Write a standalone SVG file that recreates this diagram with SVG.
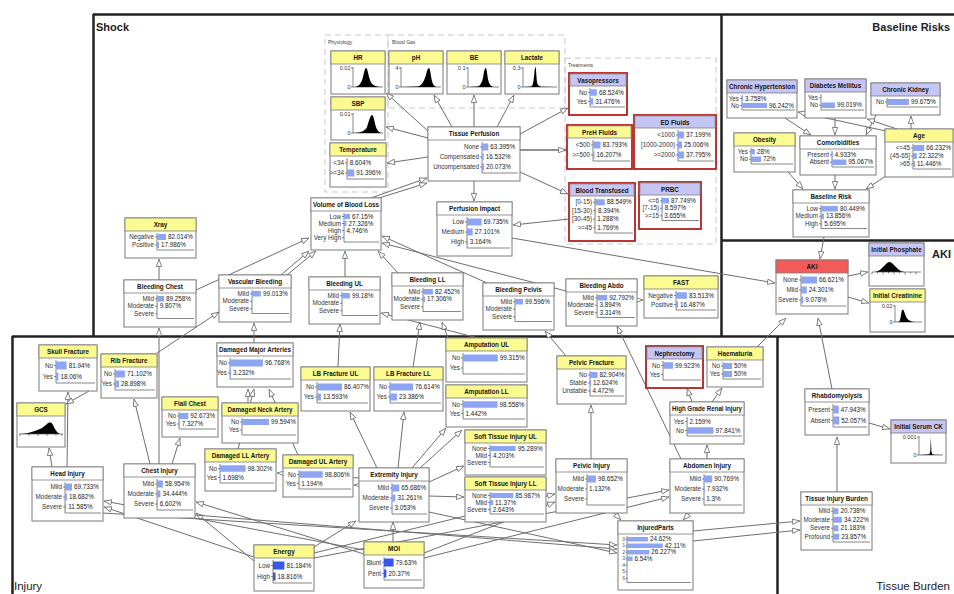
<svg xmlns="http://www.w3.org/2000/svg" width="954" height="594" viewBox="0 0 954 594">
<defs>
<style>
text{font-family:"Liberation Sans",Arial,sans-serif}
.b{fill:#fff;stroke:#7a7a7a;stroke-width:1}
.rb{fill:#fff;stroke:#b52020;stroke-width:1.8}
.hy{fill:#fbfb92;stroke:#7a7a7a;stroke-width:.8}
.hl{fill:#c6c6f4;stroke:#7a7a7a;stroke-width:.8}
.hw{fill:#fff;stroke:#7a7a7a;stroke-width:.8}
.hr{fill:#f35a5a;stroke:#7a7a7a;stroke-width:.8}
.t{font-size:6.3px;font-weight:bold;text-anchor:middle;fill:#151515}
.l{font-size:6.3px;text-anchor:end;fill:#333}
.v{font-size:6.3px;fill:#222}
.s{font-size:4.5px;text-anchor:end;fill:#444}
.cl{font-size:5.5px;text-anchor:end;fill:#333}
.f{fill:none;stroke:#555;stroke-width:.7}
.bb{fill:#8da5f3}
.bd{fill:#3557ee}
.d{fill:#000}
.e{fill:none;stroke:#6e6e6e;stroke-width:1;marker-end:url(#a)}
.pl{fill:none;stroke:#222;stroke-width:2.5}
.dg{fill:none;stroke:#c8c8c8;stroke-width:1;stroke-dasharray:6 4}
.pt{font-size:11px;font-weight:bold;fill:#222}
.pn{font-size:11.5px;fill:#222}
.gl{font-size:5px;fill:#444}
</style>
<marker id="a" viewBox="0 0 10 8" refX="10" refY="4" markerWidth="8" markerHeight="6.4" markerUnits="userSpaceOnUse" orient="auto"><path d="M0.6,0.6 L9.5,4 L0.6,7.4 Z" fill="#fff" stroke="#666" stroke-width="1"/></marker>
</defs>
<rect width="954" height="594" fill="#fff"/>

<g id="panels">
<path class="pl" d="M93,14.5H954M93.5,14V337M721.5,14V337M721,240.5H954M12,336.5H954M12.5,336V594M777.5,336V594"/>
<text class="pt" x="96" y="31">Shock</text>
<text class="pt" x="950" y="31" font-size="10" text-anchor="end">Baseline Risks</text>
<text class="pt" x="951" y="258" font-size="10" text-anchor="end">AKI</text>
<text class="pn" x="14" y="590">Injury</text>
<text class="pn" x="950" y="590" font-size="11" text-anchor="end">Tissue Burden</text>
</g>

<g id="groups">
<rect class="dg" x="325" y="35" width="63" height="157"/>
<rect class="dg" x="388" y="35" width="177" height="73"/>
<rect class="dg" x="565" y="58" width="151" height="186"/>
<text class="gl" x="328" y="44">Physiology</text>
<text class="gl" x="392" y="44">Blood Gas</text>
<text class="gl" x="568" y="67">Treatments</text>
</g>

<g id="connectors">
<path class="e" d="M428,131L386,93"/>
<path class="e" d="M452,127L434,95"/>
<path class="e" d="M474,127L474,95"/>
<path class="e" d="M497,127L514,95"/>
<path class="e" d="M428,138L386,127"/>
<path class="e" d="M428,157L387,163"/>
<path class="e" d="M520,134L568,108"/>
<path class="e" d="M520,150L566,150" style="stroke-width:1.6"/>
<path class="e" d="M520,172L568,194"/>
<path class="e" d="M474,181L474,201"/>
<path class="e" d="M371,198L427,178"/>
<path class="e" d="M379,198L427,183"/>
<path class="e" d="M569,219L513,225"/>
<path class="e" d="M512,238L775,283"/>
<path class="e" d="M196,290L309,238"/>
<path class="e" d="M281,275L309,251"/>
<path class="e" d="M287,275L316,251"/>
<path class="e" d="M345,277L345,251"/>
<path class="e" d="M398,273L378,251"/>
<path class="e" d="M487,283L382,236"/>
<path class="e" d="M566,291L382,243"/>
<path class="e" d="M159,280L159,259"/>
<path class="e" d="M637,300L643,300"/>
<path class="e" d="M785,118L811,135"/>
<path class="e" d="M835,118L835,135"/>
<path class="e" d="M876,115L866,135"/>
<path class="e" d="M886,131L798,112"/>
<path class="e" d="M897,129L867,119"/>
<path class="e" d="M911,129L911,116"/>
<path class="e" d="M788,172L803,189"/>
<path class="e" d="M835,175L835,189"/>
<path class="e" d="M886,176L866,189"/>
<path class="e" d="M824,237L820,259"/>
<path class="e" d="M848,276L868,272"/>
<path class="e" d="M848,297L869,303"/>
<path class="e" d="M757,347L786,318"/>
<path class="e" d="M832,389L818,318"/>
<path class="e" d="M869,423L890,429"/>
<path class="e" d="M837,492L837,437"/>
<path class="e" d="M159,464L159,328"/>
<path class="e" d="M150,464L134,399"/>
<path class="e" d="M172,464L180,438"/>
<path class="e" d="M67,467L68,392"/>
<path class="e" d="M52,467L49,448"/>
<path class="e" d="M89,391L66,404"/>
<path class="e" d="M157,353L219,312"/>
<path class="e" d="M254,343L254,323"/>
<path class="e" d="M248,403L248,389"/>
<path class="e" d="M238,449L254,389"/>
<path class="e" d="M298,455L269,389"/>
<path class="e" d="M338,367L340,324"/>
<path class="e" d="M413,367L420,322"/>
<path class="e" d="M478,338L381,313"/>
<path class="e" d="M448,338L442,322"/>
<path class="e" d="M566,356L545,331"/>
<path class="e" d="M681,459L617,326"/>
<path class="e" d="M692,402L687,388"/>
<path class="e" d="M712,402L722,388"/>
<path class="e" d="M707,459L707,445"/>
<path class="e" d="M591,459L591,405"/>
<path class="e" d="M614,513L621,520"/>
<path class="e" d="M690,513L683,520"/>
<path class="e" d="M377,468L350,412"/>
<path class="e" d="M398,468L404,412"/>
<path class="e" d="M412,468L446,428"/>
<path class="e" d="M420,468L462,430"/>
<path class="e" d="M429,482L464,466"/>
<path class="e" d="M429,496L464,497"/>
<path class="e" d="M362,485L354,485"/>
<path class="e" d="M359,478L277,473"/>
<path class="e" d="M314,547L356,521"/>
<path class="e" d="M393,542L393,522"/>
<path class="e" d="M364,550L104,501"/>
<path class="e" d="M254,557L104,507"/>
<path class="e" d="M364,554L196,502"/>
<path class="e" d="M254,561L196,513"/>
<path class="e" d="M314,553L555,494"/>
<path class="e" d="M424,553L555,502"/>
<path class="e" d="M314,558L669,490"/>
<path class="e" d="M424,558L669,497"/>
<path class="e" d="M103,513L617,545"/>
<path class="e" d="M195,515L617,549"/>
<path class="e" d="M429,512L617,553"/>
<path class="e" d="M693,531L800,521"/>
<path class="e" d="M693,541L800,530"/>
</g>

<g id="n-hr" transform="translate(331,51)"><rect class="b" width="54" height="43"/><rect class="hy" width="54" height="13"/><text class="t" x="27" y="9.3">HR</text><path class="f" d="M22,16V36H52M20,17H22M20,36H22"/><path class="d" d="M23,36C28,35.6 30,33 32,26C33,21 34,17 35,17C36.5,17 37,23 39,29C40.5,33.5 43,35.4 50,36Z"/><text class="cl" x="19.5" y="19">0.02</text><text class="cl" x="19.5" y="38">0</text></g>
<g id="n-ph" transform="translate(389,51)"><rect class="b" width="54" height="43"/><rect class="hy" width="54" height="13"/><text class="t" x="27" y="9.3">pH</text><path class="f" d="M12,16V36H52M10,17H12M10,36H12"/><path class="d" d="M13,36L28,35.6C33,35 35,30 37,24C38,19 39,17 40,17C41,17 41.5,22 42.5,28C43.5,33 45,35.5 48,36Z"/><text class="cl" x="9.5" y="19">4</text><text class="cl" x="9.5" y="38">0</text></g>
<g id="n-be" transform="translate(447,51)"><rect class="b" width="54" height="43"/><rect class="hy" width="54" height="13"/><text class="t" x="27" y="9.3">BE</text><path class="f" d="M21,16V36H52M19,17H21M19,36H21"/><path class="d" d="M22,36L30,35.6C34,35 35.5,30 36.5,24C37.3,19 38,17 38.8,17C39.6,17 40,22 41,28C42,33 43.5,35.5 47,36Z"/><text class="cl" x="18.5" y="19">0.1</text><text class="cl" x="18.5" y="38">0</text></g>
<g id="n-lactate" transform="translate(505,51)"><rect class="b" width="54" height="43"/><rect class="hy" width="54" height="13"/><text class="t" x="27" y="9.3">Lactate</text><path class="f" d="M18,16V36H52M16,17H18M16,36H18"/><path class="d" d="M19,36L26,35.5C28,35 28.5,31 29.3,23C29.7,18 30.1,16 30.6,16C31,17 31.4,25 32,31C32.6,34.5 34,35.5 38,35.8L50,36Z"/><text class="cl" x="15.5" y="19">0.3</text><text class="cl" x="15.5" y="38">0</text></g>
<g id="n-sbp" transform="translate(331,97)"><rect class="b" width="54" height="43"/><rect class="hy" width="54" height="13"/><text class="t" x="27" y="9.3">SBP</text><path class="f" d="M22,16V36H52M20,17H22M20,36H22"/><path class="d" d="M23,36C30,35.8 34,34 36,30C38,24 39.5,18 41,18C42.5,18 43.5,25 45,30C46.5,34 48,35.5 51,36Z"/><text class="cl" x="19.5" y="19">0.01</text><text class="cl" x="19.5" y="38">0</text></g>

<g id="n-temperature" transform="translate(330,143)"><rect class="b" width="56" height="44"/><rect class="hy" width="56" height="13"/><text class="t" x="28" y="9.3">Temperature</text><path class="f" d="M17,15V36H54M15,20H17M15,30H17"/><rect class="bb" x="17" y="16.5" width="0.7" height="7"/><rect class="bb" x="17" y="26.5" width="7.3" height="7"/><text class="l" x="14" y="22.2">&lt;34</text><text class="l" x="14" y="32.2">&gt;=34</text><text class="v" x="19.7" y="22.2">8.604%</text><text class="v" x="26.3" y="32.2">91.396%</text></g>

<g id="n-tissue-perfusion" transform="translate(428,127)"><rect class="b" width="92" height="54"/><rect class="hw" width="92" height="13"/><text class="t" x="46" y="9.3">Tissue Perfusion</text><path class="f" d="M54,15V46H90M52,20H54M52,30H54M52,40H54"/><rect class="bb" x="54" y="16.5" width="6.3" height="7"/><rect class="bb" x="54" y="26.5" width="1.7" height="7"/><rect class="bb" x="54" y="36.5" width="2" height="7"/><text class="l" x="51" y="22.2">None</text><text class="l" x="51" y="32.2">Compensated</text><text class="l" x="51" y="42.2">Uncompensated</text><text class="v" x="62.3" y="22.2">63.395%</text><text class="v" x="57.7" y="32.2">16.532%</text><text class="v" x="58" y="42.2">20.073%</text></g>

<g id="n-vasopressors" transform="translate(569,73)"><rect class="rb" width="58" height="42"/><rect class="hl" x="0.9" y="0.9" width="56.2" height="12.1"/><text class="t" x="29" y="9.5">Vasopressors</text><path class="f" d="M21,15V34H56M19,19.5H21M19,28.5H21"/><rect class="bb" x="21" y="16.25" width="6.85" height="6.5"/><rect class="bb" x="21" y="25.25" width="3.15" height="6.5"/><text class="l" x="18" y="21.7">No</text><text class="l" x="18" y="30.7">Yes</text><text class="v" x="29.9" y="21.7">68.524%</text><text class="v" x="26.2" y="30.7">31.476%</text></g>

<g id="n-preh-fluids" transform="translate(567,125)"><rect class="rb" width="65" height="44"/><rect class="hy" x="0.9" y="0.9" width="63.2" height="12.1"/><text class="t" x="32.5" y="9.5">PreH Fluids</text><path class="f" d="M26,15V36H63M24,20H26M24,30H26"/><rect class="bb" x="26" y="16.5" width="7.5" height="7"/><rect class="bb" x="26" y="26.5" width="1.5" height="7"/><text class="l" x="23" y="22.2">&lt;500</text><text class="l" x="23" y="32.2">&gt;=500</text><text class="v" x="35.5" y="22.2">83.793%</text><text class="v" x="29.5" y="32.2">16.207%</text></g>

<g id="n-ed-fluids" transform="translate(634,115)"><rect class="rb" width="82" height="54"/><rect class="hl" x="0.9" y="0.9" width="80.2" height="12.1"/><text class="t" x="41" y="9.5">ED Fluids</text><path class="f" d="M44,15V46H80M42,20H44M42,30H44M42,40H44"/><rect class="bb" x="44" y="16.5" width="5.95" height="7"/><rect class="bb" x="44" y="26.5" width="4" height="7"/><rect class="bb" x="44" y="36.5" width="6.05" height="7"/><text class="l" x="41" y="22.2">&lt;1000</text><text class="l" x="41" y="32.2">[1000-2000)</text><text class="l" x="41" y="42.2">&gt;=2000</text><text class="v" x="52" y="22.2">37.199%</text><text class="v" x="50" y="32.2">25.006%</text><text class="v" x="52" y="42.2">37.795%</text></g>

<g id="n-blood-transfused" transform="translate(569,183)"><rect class="rb" width="66" height="58"/><rect class="hl" x="0.9" y="0.9" width="64.2" height="12.1"/><text class="t" x="33" y="9.5">Blood Transfused</text><path class="f" d="M26,15V50H64M24,19.25H26M24,27.75H26M24,36.25H26M24,44.75H26"/><rect class="bb" x="26" y="16.25" width="9.74" height="6"/><rect class="bb" x="26" y="24.75" width="0.92" height="6"/><rect class="bb" x="26" y="33.25" width="0.3" height="6"/><rect class="bb" x="26" y="41.75" width="0.3" height="6"/><text class="l" x="23" y="21.45">[0-15)</text><text class="l" x="23" y="29.95">[15-30)</text><text class="l" x="23" y="38.45">[30-45)</text><text class="l" x="23" y="46.95">&gt;=45</text><text class="v" x="37.7" y="21.45">88.549%</text><text class="v" x="28.9" y="29.95">8.394%</text><text class="v" x="28.3" y="38.45">1.288%</text><text class="v" x="28.3" y="46.95">1.769%</text></g>

<g id="n-prbc" transform="translate(639,182)"><rect class="rb" width="62" height="47"/><rect class="hl" x="0.9" y="0.9" width="60.2" height="12.1"/><text class="t" x="31" y="9.5">PRBC</text><path class="f" d="M23,15V38.5H60M21,18.75H23M21,26.25H23M21,33.75H23"/><rect class="bb" x="23" y="16" width="7" height="5.5"/><rect class="bb" x="23" y="23.5" width="0.7" height="5.5"/><rect class="bb" x="23" y="31" width="0.3" height="5.5"/><text class="l" x="20" y="20.95">&lt;=6</text><text class="l" x="20" y="28.45">[7-15)</text><text class="l" x="20" y="35.95">&gt;=15</text><text class="v" x="32" y="20.95">87.749%</text><text class="v" x="25.7" y="28.45">8.597%</text><text class="v" x="25.3" y="35.95">3.655%</text></g>

<g id="n-perfusion-impact" transform="translate(437,202)"><rect class="b" width="75" height="54"/><rect class="hw" width="75" height="13"/><text class="t" x="37.5" y="9.3">Perfusion Impact</text><path class="f" d="M30,15V46H73M28,20H30M28,30H30M28,40H30"/><rect class="bb" x="30" y="16.5" width="14.6" height="7"/><rect class="bb" x="30" y="26.5" width="5.7" height="7"/><rect class="bb" x="30" y="36.5" width="0.7" height="7"/><text class="l" x="27" y="22.2">Low</text><text class="l" x="27" y="32.2">Medium</text><text class="l" x="27" y="42.2">High</text><text class="v" x="46.6" y="22.2">69.735%</text><text class="v" x="37.7" y="32.2">27.101%</text><text class="v" x="32.7" y="42.2">3.164%</text></g>

<g id="n-volume-blood-loss" transform="translate(311,198)"><rect class="b" width="70" height="52"/><rect class="hw" width="70" height="13"/><text class="t" x="35" y="9.3">Volume of Blood Loss</text><path class="f" d="M33,15V44H68M31,18.5H33M31,25.5H33M31,32.5H33M31,39.5H33"/><rect class="bb" x="33" y="16" width="6" height="5"/><rect class="bb" x="33" y="23" width="2.5" height="5"/><rect class="bb" x="33" y="30" width="0.45" height="5"/><text class="l" x="30" y="20.7">Low</text><text class="l" x="30" y="27.7">Medium</text><text class="l" x="30" y="34.7">High</text><text class="l" x="30" y="41.7">Very High</text><text class="v" x="41" y="20.7">67.15%</text><text class="v" x="37.5" y="27.7">27.326%</text><text class="v" x="35.4" y="34.7">4.746%</text></g>

<g id="n-xray" transform="translate(125,218)"><rect class="b" width="71" height="40"/><rect class="hy" width="71" height="13"/><text class="t" x="35.5" y="9.3">Xray</text><path class="f" d="M32,15V32H69M30,19H32M30,27H32"/><rect class="bb" x="32" y="16" width="9" height="6"/><rect class="bb" x="32" y="24" width="2" height="6"/><text class="l" x="29" y="21.2">Negative</text><text class="l" x="29" y="29.2">Positive</text><text class="v" x="43" y="21.2">82.014%</text><text class="v" x="36" y="29.2">17.986%</text></g>

<g id="n-bleeding-chest" transform="translate(124,280)"><rect class="b" width="72" height="47"/><rect class="hw" width="72" height="13"/><text class="t" x="36" y="9.3">Bleeding Chest</text><path class="f" d="M33,15V38.5H70M31,18.75H33M31,26.25H33M31,33.75H33"/><rect class="bb" x="33" y="16" width="7.1" height="5.5"/><rect class="bb" x="33" y="23.5" width="0.8" height="5.5"/><text class="l" x="30" y="20.95">Mild</text><text class="l" x="30" y="28.45">Moderate</text><text class="l" x="30" y="35.95">Severe</text><text class="v" x="42.1" y="20.95">89.258%</text><text class="v" x="35.8" y="28.45">9.807%</text></g>

<g id="n-vascular-bleeding" transform="translate(219,275)"><rect class="b" width="72" height="47"/><rect class="hw" width="72" height="13"/><text class="t" x="36" y="9.3">Vascular Bleeding</text><path class="f" d="M33,15V38.5H70M31,18.75H33M31,26.25H33M31,33.75H33"/><rect class="bb" x="33" y="16" width="8.9" height="5.5"/><text class="l" x="30" y="20.95">Mild</text><text class="l" x="30" y="28.45">Moderate</text><text class="l" x="30" y="35.95">Severe</text><text class="v" x="43.9" y="20.95">99.013%</text></g>

<g id="n-bleeding-ul" transform="translate(309,277)"><rect class="b" width="71" height="47"/><rect class="hw" width="71" height="13"/><text class="t" x="35.5" y="9.3">Bleeding UL</text><path class="f" d="M33,15V38.5H69M31,18.75H33M31,26.25H33M31,33.75H33"/><rect class="bb" x="33" y="16" width="7.9" height="5.5"/><text class="l" x="30" y="20.95">Mild</text><text class="l" x="30" y="28.45">Moderate</text><text class="l" x="30" y="35.95">Severe</text><text class="v" x="42.9" y="20.95">99.18%</text></g>

<g id="n-bleeding-ll" transform="translate(392,273)"><rect class="b" width="71" height="47"/><rect class="hw" width="71" height="13"/><text class="t" x="35.5" y="9.3">Bleeding LL</text><path class="f" d="M31,15V38.5H69M29,18.75H31M29,26.25H31M29,33.75H31"/><rect class="bb" x="31" y="16" width="9.9" height="5.5"/><rect class="bb" x="31" y="23.5" width="2.1" height="5.5"/><text class="l" x="28" y="20.95">Mild</text><text class="l" x="28" y="28.45">Moderate</text><text class="l" x="28" y="35.95">Severe</text><text class="v" x="42.9" y="20.95">82.452%</text><text class="v" x="35.1" y="28.45">17.306%</text></g>

<g id="n-bleeding-pelvis" transform="translate(483,283)"><rect class="b" width="71" height="47"/><rect class="hw" width="71" height="13"/><text class="t" x="35.5" y="9.3">Bleeding Pelvis</text><path class="f" d="M32,15V38.5H69M30,18.75H32M30,26.25H32M30,33.75H32"/><rect class="bb" x="32" y="16" width="8" height="5.5"/><text class="l" x="29" y="20.95">Mild</text><text class="l" x="29" y="28.45">Moderate</text><text class="l" x="29" y="35.95">Severe</text><text class="v" x="42" y="20.95">99.596%</text></g>

<g id="n-bleeding-abdo" transform="translate(566,279)"><rect class="b" width="71" height="47"/><rect class="hw" width="71" height="13"/><text class="t" x="35.5" y="9.3">Bleeding Abdo</text><path class="f" d="M31,15V38.5H69M29,18.75H31M29,26.25H31M29,33.75H31"/><rect class="bb" x="31" y="16" width="10.2" height="5.5"/><rect class="bb" x="31" y="23.5" width="0.45" height="5.5"/><rect class="bb" x="31" y="31" width="0.4" height="5.5"/><text class="l" x="28" y="20.95">Mild</text><text class="l" x="28" y="28.45">Moderate</text><text class="l" x="28" y="35.95">Severe</text><text class="v" x="43.2" y="20.95">92.792%</text><text class="v" x="33.5" y="28.45">3.894%</text><text class="v" x="33.4" y="35.95">3.314%</text></g>

<g id="n-fast" transform="translate(644,276)"><rect class="b" width="74" height="42"/><rect class="hy" width="74" height="13"/><text class="t" x="37" y="9.3">FAST</text><path class="f" d="M32,15V34H72M30,19.5H32M30,28.5H32"/><rect class="bb" x="32" y="16.25" width="10.9" height="6.5"/><rect class="bb" x="32" y="25.25" width="2.1" height="6.5"/><text class="l" x="29" y="21.7">Negative</text><text class="l" x="29" y="30.7">Positive</text><text class="v" x="44.9" y="21.7">83.513%</text><text class="v" x="36.1" y="30.7">16.487%</text></g>

<g id="n-chronic-hypertension" transform="translate(727,80)"><rect class="b" width="70" height="38"/><rect class="hl" width="70" height="13"/><text class="t" x="35" y="9.3" textLength="66" lengthAdjust="spacingAndGlyphs">Chronic Hypertension</text><path class="f" d="M15,15V30H68M13,18.5H15M13,25.5H15"/><rect class="bb" x="15" y="16" width="1" height="5"/><rect class="bb" x="15" y="23" width="25" height="5"/><text class="l" x="12" y="20.7">Yes</text><text class="l" x="12" y="27.7">No</text><text class="v" x="18" y="20.7">3.758%</text><text class="v" x="42" y="27.7">96.242%</text></g>

<g id="n-diabetes" transform="translate(805,79)"><rect class="b" width="61" height="39"/><rect class="hl" width="61" height="13"/><text class="t" x="30.5" y="9.3">Diabetes Mellitus</text><path class="f" d="M16,15V31H59M14,18.75H16M14,26.25H16"/><rect class="bb" x="16" y="23.5" width="13.9" height="5.5"/><text class="l" x="13" y="20.95">Yes</text><text class="l" x="13" y="28.45">No</text><text class="v" x="31.9" y="28.45">99.019%</text></g>

<g id="n-chronic-kidney" transform="translate(871,83)"><rect class="b" width="69" height="32"/><rect class="hl" width="69" height="13"/><text class="t" x="34.5" y="9.3">Chronic Kidney</text><path class="f" d="M16,15V24H67M14,19H16"/><rect class="bb" x="16" y="16" width="21.9" height="6"/><text class="l" x="13" y="21.2">No</text><text class="v" x="39.9" y="21.2">99.675%</text></g>

<g id="n-obesity" transform="translate(734,133)"><rect class="b" width="61" height="39"/><rect class="hy" width="61" height="13"/><text class="t" x="30.5" y="9.3">Obesity</text><path class="f" d="M17,15V31H59M15,18.75H17M15,26.25H17"/><rect class="bb" x="17" y="16" width="3.9" height="5.5"/><rect class="bb" x="17" y="23.5" width="10.1" height="5.5"/><text class="l" x="14" y="20.95">Yes</text><text class="l" x="14" y="28.45">No</text><text class="v" x="22.9" y="20.95">28%</text><text class="v" x="29.1" y="28.45">72%</text></g>

<g id="n-comorbidities" transform="translate(800,136)"><rect class="b" width="76" height="39"/><rect class="hw" width="76" height="13"/><text class="t" x="38" y="9.3">Comorbidities</text><path class="f" d="M32,15V31H74M30,18.75H32M30,26.25H32"/><rect class="bb" x="32" y="16" width="0.74" height="5.5"/><rect class="bb" x="32" y="23.5" width="14.3" height="5.5"/><text class="l" x="29" y="20.95">Present</text><text class="l" x="29" y="28.45">Absent</text><text class="v" x="34.7" y="20.95">4.933%</text><text class="v" x="48.3" y="28.45">95.067%</text></g>

<g id="n-age" transform="translate(885,129)"><rect class="b" width="68" height="48"/><rect class="hy" width="68" height="13"/><text class="t" x="34" y="9.3">Age</text><path class="f" d="M28,15V40H66M26,19H28M26,27H28M26,35H28"/><rect class="bb" x="28" y="16" width="11.3" height="6"/><rect class="bb" x="28" y="24" width="3.8" height="6"/><rect class="bb" x="28" y="32" width="1.95" height="6"/><text class="l" x="25" y="21.2">&lt;=45</text><text class="l" x="25" y="29.2">(45-65]</text><text class="l" x="25" y="37.2">&gt;65</text><text class="v" x="41.3" y="21.2">66.232%</text><text class="v" x="33.8" y="29.2">22.322%</text><text class="v" x="31.9" y="37.2">11.446%</text></g>

<g id="n-baseline-risk" transform="translate(793,190)"><rect class="b" width="76" height="47"/><rect class="hw" width="76" height="13"/><text class="t" x="38" y="9.3">Baseline Risk</text><path class="f" d="M28,15V38.5H74M26,18.75H28M26,26.25H28M26,33.75H28"/><rect class="bb" x="28" y="16" width="16.9" height="5.5"/><rect class="bb" x="28" y="23.5" width="2.9" height="5.5"/><rect class="bb" x="28" y="31" width="1.2" height="5.5"/><text class="l" x="25" y="20.95">Low</text><text class="l" x="25" y="28.45">Medium</text><text class="l" x="25" y="35.95">High</text><text class="v" x="46.9" y="20.95">80.449%</text><text class="v" x="32.9" y="28.45">13.856%</text><text class="v" x="31.2" y="35.95">5.695%</text></g>

<g id="n-aki" transform="translate(776,260)"><rect class="b" width="72" height="54"/><rect class="hr" width="72" height="13"/><text class="t" x="36" y="9.3">AKI</text><path class="f" d="M25,15V46H70M23,20H25M23,30H25M23,40H25"/><rect class="bb" x="25" y="16.5" width="16" height="7"/><rect class="bb" x="25" y="26.5" width="5.8" height="7"/><rect class="bb" x="25" y="36.5" width="2.2" height="7"/><text class="l" x="22" y="22.2">None</text><text class="l" x="22" y="32.2">Mild</text><text class="l" x="22" y="42.2">Severe</text><text class="v" x="43" y="22.2">66.621%</text><text class="v" x="32.8" y="32.2">24.301%</text><text class="v" x="29.2" y="42.2">9.078%</text></g>

<g id="n-initial-phosphate" transform="translate(869,243)"><rect class="b" width="55" height="43"/><rect class="hl" width="55" height="13"/><text class="t" x="27.5" y="9.3">Initial Phosphate</text><path class="d" d="M5,29C10,29 13,25 16,22C18,20 19,19 20.5,19C22,19 23,20 25,22C28,25 31,29 36,29Z"/><path class="f" d="M3,29H52M3,29V31.5M14,29V31.5M25,29V31.5M36,29V31.5M47,29V31.5M8.5,29V30.5M19.5,29V30.5M30.5,29V30.5M41.5,29V30.5"/></g>

<g id="n-initial-creatinine" transform="translate(870,289)"><rect class="b" width="55" height="43"/><rect class="hy" width="55" height="13"/><text class="t" x="27.5" y="9.3">Initial Creatinine</text><path class="f" d="M25,16V33H52M23,17H25M23,33H25"/><path class="d" d="M26,33L29,32.8C30.5,32 31,24 32,21C33,20 34,21 35,25C36.5,30 39,32.5 45,33L50,33Z"/><text class="cl" x="22.5" y="19">0.02</text><text class="cl" x="22.5" y="35">0</text></g>

<g id="n-skull-fracture" transform="translate(39,345)"><rect class="b" width="58" height="46"/><rect class="hy" width="58" height="13"/><text class="t" x="29" y="9.3">Skull Fracture</text><path class="f" d="M17,15V38H56M15,20.5H17M15,31.5H17"/><rect class="bb" x="17" y="16.5" width="10.65" height="8"/><rect class="bb" x="17" y="27.5" width="2.35" height="8"/><text class="l" x="14" y="22.7">No</text><text class="l" x="14" y="33.7">Yes</text><text class="v" x="29.7" y="22.7">81.94%</text><text class="v" x="21.4" y="33.7">18.06%</text></g>

<g id="n-rib-fracture" transform="translate(101,354)"><rect class="b" width="56" height="44"/><rect class="hy" width="56" height="13"/><text class="t" x="28" y="9.3">Rib Fracture</text><path class="f" d="M14,15V36H54M12,20H14M12,30H14"/><rect class="bb" x="14" y="16.5" width="9.95" height="7"/><rect class="bb" x="14" y="26.5" width="4.05" height="7"/><text class="l" x="11" y="22.2">No</text><text class="l" x="11" y="32.2">Yes</text><text class="v" x="26" y="22.2">71.102%</text><text class="v" x="20" y="32.2">28.898%</text></g>

<g id="n-damaged-major-arteries" transform="translate(217,343)"><rect class="b" width="76" height="44"/><rect class="hw" width="76" height="13"/><text class="t" x="38" y="9.3" textLength="72" lengthAdjust="spacingAndGlyphs">Damaged Major Arteries</text><path class="f" d="M13,15V36H74M11,20H13M11,30H13"/><rect class="bb" x="13" y="16.5" width="32.9" height="7"/><rect class="bb" x="13" y="26.5" width="1.1" height="7"/><text class="l" x="10" y="22.2">No</text><text class="l" x="10" y="32.2">Yes</text><text class="v" x="47.9" y="22.2">96.768%</text><text class="v" x="16.1" y="32.2">3.232%</text></g>

<g id="n-lb-fracture-ul" transform="translate(301,367)"><rect class="b" width="69" height="44"/><rect class="hy" width="69" height="13"/><text class="t" x="34.5" y="9.3">LB Fracture UL</text><path class="f" d="M16,15V36H67M14,20H16M14,30H16"/><rect class="bb" x="16" y="16.5" width="25.1" height="7"/><rect class="bb" x="16" y="26.5" width="3.9" height="7"/><text class="l" x="13" y="22.2">No</text><text class="l" x="13" y="32.2">Yes</text><text class="v" x="43.1" y="22.2">86.407%</text><text class="v" x="21.9" y="32.2">13.593%</text></g>

<g id="n-lb-fracture-ll" transform="translate(374,367)"><rect class="b" width="69" height="44"/><rect class="hy" width="69" height="13"/><text class="t" x="34.5" y="9.3">LB Fracture LL</text><path class="f" d="M16,15V36H67M14,20H16M14,30H16"/><rect class="bb" x="16" y="16.5" width="23" height="7"/><rect class="bb" x="16" y="26.5" width="7" height="7"/><text class="l" x="13" y="22.2">No</text><text class="l" x="13" y="32.2">Yes</text><text class="v" x="41" y="22.2">76.614%</text><text class="v" x="25" y="32.2">23.386%</text></g>

<g id="n-amputation-ul" transform="translate(446,338)"><rect class="b" width="81" height="44"/><rect class="hy" width="81" height="13"/><text class="t" x="40.5" y="9.3">Amputation UL</text><path class="f" d="M17,15V36H79M15,20H17M15,30H17"/><rect class="bb" x="17" y="16.5" width="34.8" height="7"/><text class="l" x="14" y="22.2">No</text><text class="l" x="14" y="32.2">Yes</text><text class="v" x="53.8" y="22.2">99.315%</text></g>

<g id="n-amputation-ll" transform="translate(446,385)"><rect class="b" width="81" height="42"/><rect class="hy" width="81" height="13"/><text class="t" x="40.5" y="9.3">Amputation LL</text><path class="f" d="M17,15V34H79M15,19.5H17M15,28.5H17"/><rect class="bb" x="17" y="16.25" width="34.5" height="6.5"/><rect class="bb" x="17" y="25.25" width="0.5" height="6.5"/><text class="l" x="14" y="21.7">No</text><text class="l" x="14" y="30.7">Yes</text><text class="v" x="53.5" y="21.7">98.558%</text><text class="v" x="19.5" y="30.7">1.442%</text></g>

<g id="n-soft-tissue-ul" transform="translate(465,430)"><rect class="b" width="81" height="45"/><rect class="hy" width="81" height="13"/><text class="t" x="40.5" y="9.3">Soft Tissue Injury UL</text><path class="f" d="M25,15V37H79M23,18.5H25M23,25.5H25M23,32.5H25"/><rect class="bb" x="25" y="16" width="25.7" height="5"/><rect class="bb" x="25" y="23" width="1.1" height="5"/><text class="l" x="22" y="20.7">None</text><text class="l" x="22" y="27.7">Mild</text><text class="l" x="22" y="34.7">Severe</text><text class="v" x="52.7" y="20.7">95.289%</text><text class="v" x="28.1" y="27.7">4.203%</text></g>

<g id="n-soft-tissue-ll" transform="translate(465,477)"><rect class="b" width="81" height="45"/><rect class="hy" width="81" height="13"/><text class="t" x="40.5" y="9.3">Soft Tissue Injury LL</text><path class="f" d="M25,15V37H79M23,18.5H25M23,25.5H25M23,32.5H25"/><rect class="bb" x="25" y="16" width="23.2" height="5"/><rect class="bb" x="25" y="23" width="3.1" height="5"/><rect class="bb" x="25" y="30" width="0.7" height="5"/><text class="l" x="22" y="20.7">None</text><text class="l" x="22" y="27.7">Mild</text><text class="l" x="22" y="34.7">Severe</text><text class="v" x="50.2" y="20.7">85.987%</text><text class="v" x="30.1" y="27.7">11.37%</text><text class="v" x="27.7" y="34.7">2.643%</text></g>

<g id="n-pelvic-fracture" transform="translate(557,356)"><rect class="b" width="69" height="48"/><rect class="hy" width="69" height="13"/><text class="t" x="34.5" y="9.3">Pelvic Fracture</text><path class="f" d="M33,15V40H67M31,19H33M31,27H33M31,35H33"/><rect class="bb" x="33" y="16" width="7.5" height="6"/><rect class="bb" x="33" y="24" width="1.1" height="6"/><rect class="bb" x="33" y="32" width="0.4" height="6"/><text class="l" x="30" y="21.2">No</text><text class="l" x="30" y="29.2">Stable</text><text class="l" x="30" y="37.2">Unstable</text><text class="v" x="42.5" y="21.2">82.904%</text><text class="v" x="36.1" y="29.2">12.624%</text><text class="v" x="35.4" y="37.2">4.472%</text></g>

<g id="n-nephrectomy" transform="translate(646,346)"><rect class="rb" width="57" height="42"/><rect class="hl" x="0.9" y="0.9" width="55.2" height="12.1"/><text class="t" x="28.5" y="9.5">Nephrectomy</text><path class="f" d="M17,15V34H55M15,19.5H17M15,28.5H17"/><rect class="bb" x="17" y="16.25" width="10" height="6.5"/><text class="l" x="14" y="21.7">No</text><text class="l" x="14" y="30.7">Yes</text><text class="v" x="29" y="21.7">99.923%</text></g>

<g id="n-haematuria" transform="translate(707,347)"><rect class="b" width="56" height="40"/><rect class="hy" width="56" height="13"/><text class="t" x="28" y="9.3">Haematuria</text><path class="f" d="M16,15V32H54M14,19H16M14,27H16"/><rect class="bb" x="16" y="16" width="9" height="6"/><rect class="bb" x="16" y="24" width="9" height="6"/><text class="l" x="13" y="21.2">No</text><text class="l" x="13" y="29.2">Yes</text><text class="v" x="27" y="21.2">50%</text><text class="v" x="27" y="29.2">50%</text></g>

<g id="n-high-grade-renal" transform="translate(670,402)"><rect class="b" width="74" height="42"/><rect class="hw" width="74" height="13"/><text class="t" x="37" y="9.3" textLength="70" lengthAdjust="spacingAndGlyphs">High Grade Renal Injury</text><path class="f" d="M17,15V34H72M15,19.5H17M15,28.5H17"/><rect class="bb" x="17" y="16.25" width="0.6" height="6.5"/><rect class="bb" x="17" y="25.25" width="26.4" height="6.5"/><text class="l" x="14" y="21.7">Yes</text><text class="l" x="14" y="30.7">No</text><text class="v" x="19.6" y="21.7">2.159%</text><text class="v" x="45.4" y="30.7">97.841%</text></g>

<g id="n-abdomen-injury" transform="translate(670,459)"><rect class="b" width="74" height="54"/><rect class="hw" width="74" height="13"/><text class="t" x="37" y="9.3">Abdomen Injury</text><path class="f" d="M34,15V46H72M32,20H34M32,30H34M32,40H34"/><rect class="bb" x="34" y="16.5" width="8.2" height="7"/><rect class="bb" x="34" y="26.5" width="0.7" height="7"/><rect class="bb" x="34" y="36.5" width="0.2" height="7"/><text class="l" x="31" y="22.2">Mild</text><text class="l" x="31" y="32.2">Moderate</text><text class="l" x="31" y="42.2">Severe</text><text class="v" x="44.2" y="22.2">90.769%</text><text class="v" x="36.7" y="32.2">7.932%</text><text class="v" x="36.2" y="42.2">1.3%</text></g>

<g id="n-pelvic-injury" transform="translate(556,459)"><rect class="b" width="71" height="54"/><rect class="hw" width="71" height="13"/><text class="t" x="35.5" y="9.3">Pelvic Injury</text><path class="f" d="M31,15V46H69M29,20H31M29,30H31M29,40H31"/><rect class="bb" x="31" y="16.5" width="8.9" height="7"/><rect class="bb" x="31" y="26.5" width="0.1" height="7"/><text class="l" x="28" y="22.2">Mild</text><text class="l" x="28" y="32.2">Moderate</text><text class="l" x="28" y="42.2">Severe</text><text class="v" x="41.9" y="22.2">98.652%</text><text class="v" x="33.1" y="32.2">1.132%</text></g>

<g id="n-injured-parts" transform="translate(618,521)"><rect class="b" width="75" height="69"/><rect class="hw" width="75" height="13"/><text class="t" x="37.5" y="9.3">InjuredParts</text><path class="f" d="M9,15V61.5H73M7.5,18.25H9M7.5,24.75H9M7.5,31.25H9M7.5,37.75H9M7.5,44.25H9M7.5,50.75H9M7.5,57.25H9"/><rect class="bb" x="9" y="16" width="20.9" height="4.5"/><rect class="bb" x="9" y="22.5" width="35.8" height="4.5"/><rect class="bb" x="9" y="29" width="22.3" height="4.5"/><rect class="bb" x="9" y="35.5" width="5.6" height="4.5"/><text class="s" x="7" y="19.85">0</text><text class="s" x="7" y="26.35">1</text><text class="s" x="7" y="32.85">2</text><text class="s" x="7" y="39.35">3</text><text class="s" x="7" y="45.85">4</text><text class="s" x="7" y="52.35">5</text><text class="s" x="7" y="58.85">6</text><text class="v" x="31.9" y="20.45">24.62%</text><text class="v" x="46.8" y="26.95">42.11%</text><text class="v" x="33.3" y="33.45">26.227%</text><text class="v" x="16.6" y="39.95">6.54%</text></g>

<g id="n-tissue-injury-burden" transform="translate(801,492)"><rect class="b" width="71" height="58"/><rect class="hw" width="71" height="13"/><text class="t" x="35.5" y="9.3">Tissue Injury Burden</text><path class="f" d="M32,15V50H69M30,19.25H32M30,27.75H32M30,36.25H32M30,44.75H32"/><rect class="bb" x="32" y="16.25" width="5.4" height="6"/><rect class="bb" x="32" y="24.75" width="8.9" height="6"/><rect class="bb" x="32" y="33.25" width="5.5" height="6"/><rect class="bb" x="32" y="41.75" width="6.2" height="6"/><text class="l" x="29" y="21.45">Mild</text><text class="l" x="29" y="29.95">Moderate</text><text class="l" x="29" y="38.45">Severe</text><text class="l" x="29" y="46.95">Profound</text><text class="v" x="39.4" y="21.45">20.738%</text><text class="v" x="42.9" y="29.95">34.222%</text><text class="v" x="39.5" y="38.45">21.183%</text><text class="v" x="40.2" y="46.95">23.857%</text></g>

<g id="n-rhabdomyolysis" transform="translate(805,389)"><rect class="b" width="64" height="46"/><rect class="hw" width="64" height="13"/><text class="t" x="32" y="9.3">Rhabdomyolysis</text><path class="f" d="M28,15V38H62M26,20.5H28M26,31.5H28"/><rect class="bb" x="28" y="16.5" width="5.75" height="8"/><rect class="bb" x="28" y="27.5" width="6.25" height="8"/><text class="l" x="25" y="22.7">Present</text><text class="l" x="25" y="33.7">Absent</text><text class="v" x="35.8" y="22.7">47.943%</text><text class="v" x="36.3" y="33.7">52.057%</text></g>

<g id="n-initial-serum-ck" transform="translate(891,420)"><rect class="b" width="55" height="43"/><rect class="hl" width="55" height="13"/><text class="t" x="27.5" y="9.3">Initial Serum CK</text><path class="f" d="M28,16V35H52M26,17H28M26,35H28"/><path class="d" d="M29,35L36,34.6L38.5,34.2L39.3,31L39.8,17L40.4,31L41.2,34.2L44,34.7L52,35Z"/><text class="cl" x="25.5" y="19">0.001</text><text class="cl" x="25.5" y="37">0</text></g>

<g id="n-gcs" transform="translate(17,403)"><rect class="b" width="48" height="44"/><rect class="hy" width="48" height="13"/><text class="t" x="24" y="9.3">GCS</text><path class="d" d="M3,31C10,30.6 18,28.5 24,25.5C28,23.5 30,20 33,19.5C35,19.2 36,22 38,26C40,29.5 42,31 44,31Z"/><path class="f" d="M2,31H46M3,31V33M12,31V33M21,31V33M30,31V33M39,31V33M45,31V33"/></g>

<g id="n-head-injury" transform="translate(32,467)"><rect class="b" width="71" height="54"/><rect class="hw" width="71" height="13"/><text class="t" x="35.5" y="9.3">Head Injury</text><path class="f" d="M33,15V46H69M31,20H33M31,30H33M31,40H33"/><rect class="bb" x="33" y="16.5" width="7" height="7"/><rect class="bb" x="33" y="26.5" width="1.9" height="7"/><rect class="bb" x="33" y="36.5" width="1.2" height="7"/><text class="l" x="30" y="22.2">Mild</text><text class="l" x="30" y="32.2">Moderate</text><text class="l" x="30" y="42.2">Severe</text><text class="v" x="42" y="22.2">69.733%</text><text class="v" x="36.9" y="32.2">18.682%</text><text class="v" x="36.2" y="42.2">11.585%</text></g>

<g id="n-chest-injury" transform="translate(124,464)"><rect class="b" width="71" height="54"/><rect class="hw" width="71" height="13"/><text class="t" x="35.5" y="9.3">Chest Injury</text><path class="f" d="M33,15V46H69M31,20H33M31,30H33M31,40H33"/><rect class="bb" x="33" y="16.5" width="5.9" height="7"/><rect class="bb" x="33" y="26.5" width="3.4" height="7"/><rect class="bb" x="33" y="36.5" width="0.7" height="7"/><text class="l" x="30" y="22.2">Mild</text><text class="l" x="30" y="32.2">Moderate</text><text class="l" x="30" y="42.2">Severe</text><text class="v" x="40.9" y="22.2">58.954%</text><text class="v" x="38.4" y="32.2">34.444%</text><text class="v" x="35.7" y="42.2">6.602%</text></g>

<g id="n-flail-chest" transform="translate(162,397)"><rect class="b" width="56" height="40"/><rect class="hy" width="56" height="13"/><text class="t" x="28" y="9.3">Flail Chest</text><path class="f" d="M17,15V32H54M15,19H17M15,27H17"/><rect class="bb" x="17" y="16" width="9.3" height="6"/><rect class="bb" x="17" y="24" width="0.7" height="6"/><text class="l" x="14" y="21.2">No</text><text class="l" x="14" y="29.2">Yes</text><text class="v" x="28.3" y="21.2">92.673%</text><text class="v" x="19.7" y="29.2">7.327%</text></g>

<g id="n-damaged-neck-artery" transform="translate(222,403)"><rect class="b" width="76" height="40"/><rect class="hy" width="76" height="13"/><text class="t" x="38" y="9.3">Damaged Neck Artery</text><path class="f" d="M20,15V32H74M18,19H20M18,27H20"/><rect class="bb" x="20" y="16" width="26.9" height="6"/><text class="l" x="17" y="21.2">No</text><text class="l" x="17" y="29.2">Yes</text><text class="v" x="48.9" y="21.2">99.594%</text></g>

<g id="n-damaged-ll-artery" transform="translate(205,449)"><rect class="b" width="71" height="42"/><rect class="hy" width="71" height="13"/><text class="t" x="35.5" y="9.3">Damaged LL Artery</text><path class="f" d="M15,15V34H69M13,19.5H15M13,28.5H15"/><rect class="bb" x="15" y="16.25" width="25.6" height="6.5"/><rect class="bb" x="15" y="25.25" width="0.45" height="6.5"/><text class="l" x="12" y="21.7">No</text><text class="l" x="12" y="30.7">Yes</text><text class="v" x="42.6" y="21.7">98.302%</text><text class="v" x="17.5" y="30.7">1.698%</text></g>

<g id="n-damaged-ul-artery" transform="translate(283,455)"><rect class="b" width="70" height="42"/><rect class="hy" width="70" height="13"/><text class="t" x="35" y="9.3">Damaged UL Artery</text><path class="f" d="M16,15V34H68M14,19.5H16M14,28.5H16"/><rect class="bb" x="16" y="16.25" width="23.7" height="6.5"/><rect class="bb" x="16" y="25.25" width="0.3" height="6.5"/><text class="l" x="13" y="21.7">No</text><text class="l" x="13" y="30.7">Yes</text><text class="v" x="41.7" y="21.7">98.806%</text><text class="v" x="18.3" y="30.7">1.194%</text></g>

<g id="n-extremity-injury" transform="translate(359,468)"><rect class="b" width="70" height="54"/><rect class="hw" width="70" height="13"/><text class="t" x="35" y="9.3">Extremity Injury</text><path class="f" d="M33,15V46H68M31,20H33M31,30H33M31,40H33"/><rect class="bb" x="33" y="16.5" width="7.2" height="7"/><rect class="bb" x="33" y="26.5" width="3.4" height="7"/><rect class="bb" x="33" y="36.5" width="0.35" height="7"/><text class="l" x="30" y="22.2">Mild</text><text class="l" x="30" y="32.2">Moderate</text><text class="l" x="30" y="42.2">Severe</text><text class="v" x="42.2" y="22.2">65.686%</text><text class="v" x="38.4" y="32.2">31.261%</text><text class="v" x="35.4" y="42.2">3.053%</text></g>

<g id="n-energy" transform="translate(254,545)"><rect class="b" width="60" height="46"/><rect class="hy" width="60" height="13"/><text class="t" x="30" y="9.3">Energy</text><path class="f" d="M19,15V38H58M17,20.5H19M17,31.5H19"/><rect class="bd" x="19" y="16.5" width="11.4" height="8"/><rect class="bd" x="19" y="27.5" width="2.6" height="8"/><text class="l" x="16" y="22.7">Low</text><text class="l" x="16" y="33.7">High</text><text class="v" x="32.4" y="22.7">81.184%</text><text class="v" x="23.6" y="33.7">18.816%</text></g>

<g id="n-moi" transform="translate(364,542)"><rect class="b" width="60" height="46"/><rect class="hy" width="60" height="13"/><text class="t" x="30" y="9.3">MOI</text><path class="f" d="M20,15V38H58M18,20.5H20M18,31.5H20"/><rect class="bd" x="20" y="16.5" width="9.6" height="8"/><rect class="bd" x="20" y="27.5" width="2.4" height="8"/><text class="l" x="17" y="22.7">Blunt</text><text class="l" x="17" y="33.7">Pent</text><text class="v" x="31.6" y="22.7">79.63%</text><text class="v" x="24.4" y="33.7">20.37%</text></g>
</svg>
